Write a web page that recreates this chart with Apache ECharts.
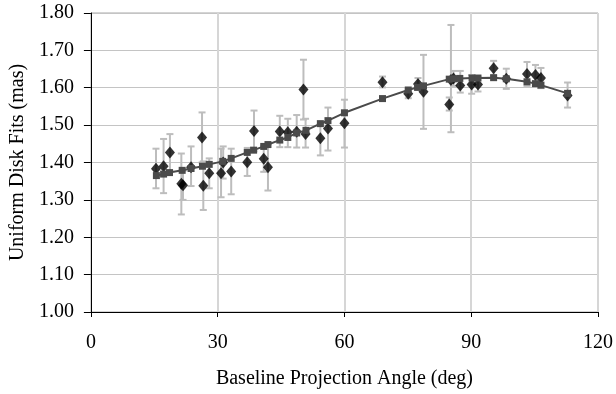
<!DOCTYPE html>
<html>
<head>
<meta charset="utf-8">
<script src="https://cdn.jsdelivr.net/npm/echarts@6/dist/echarts.min.js"></script>
<style>
  html, body { margin: 0; padding: 0; background: #fff; }
  #chart { width: 616px; height: 394px; }
</style>
</head>
<body>
<div id="chart"></div>
<script>
// measured points (angle, fit) with error bar limits
const obsAngle = [15.4, 17.2, 18.7, 21.4, 21.8, 23.7, 26.3, 26.6, 28.0, 30.8, 31.3, 33.2, 37.0, 38.6, 40.9, 41.9,
  44.7, 46.6, 48.7, 50.3, 50.8, 54.3, 56.1, 60.0, 69.0, 75.1, 77.4, 78.7, 84.8, 85.2, 85.8, 87.4, 90.1, 91.6,
  95.3, 98.3, 103.2, 105.2, 106.5, 112.8]
const obsFit = [1.383, 1.390, 1.427, 1.343, 1.339, 1.387, 1.467, 1.338, 1.371, 1.371, 1.400, 1.376, 1.401, 1.484, 1.410, 1.387,
  1.483, 1.481, 1.482, 1.595, 1.476, 1.465, 1.491, 1.505, 1.615, 1.584, 1.610, 1.589, 1.555, 1.621, 1.625, 1.606, 1.609, 1.609,
  1.652, 1.624, 1.637, 1.634, 1.626, 1.579]
const errLow = [1.331, 1.318, 1.378, 1.261, 1.300, 1.337, 1.400, 1.273, 1.331, 1.307, 1.357, 1.315, 1.364, 1.430, 1.375, 1.325,
  1.441, 1.441, 1.440, 1.515, 1.440, 1.419, 1.432, 1.440, 1.601, 1.572, 1.595, 1.490, 1.539, 1.481, 1.605, 1.587, 1.584, 1.590,
  1.632, 1.597, 1.605, 1.607, 1.599, 1.547]
const errHigh = [1.437, 1.463, 1.476, 1.424, 1.378, 1.443, 1.534, 1.403, 1.411, 1.437, 1.443, 1.437, 1.439, 1.539, 1.445, 1.449,
  1.525, 1.517, 1.527, 1.675, 1.517, 1.503, 1.547, 1.568, 1.630, 1.597, 1.626, 1.688, 1.574, 1.768, 1.645, 1.645, 1.634, 1.628,
  1.672, 1.651, 1.669, 1.661, 1.653, 1.614]

// model curve
const modelAngle = [15.5, 17.2, 18.6, 21.6, 23.7, 26.4, 28.0, 31.2, 33.2, 37.0, 38.5, 40.9, 41.9, 44.7, 46.6, 48.7,
  50.9, 54.3, 56.1, 60.0, 69.0, 75.1, 77.3, 78.7, 84.8, 85.9, 87.3, 90.2, 91.6, 95.3, 98.3, 103.2, 105.2, 106.5, 112.8]
const modelFit = [1.365, 1.369, 1.373, 1.379, 1.384, 1.390, 1.395, 1.403, 1.411, 1.427, 1.433, 1.443, 1.448, 1.460, 1.467, 1.479,
  1.486, 1.504, 1.512, 1.533, 1.571, 1.594, 1.601, 1.605, 1.623, 1.624, 1.625, 1.626, 1.626, 1.627, 1.624, 1.616, 1.611, 1.607, 1.585]

const xTicks = [0, 30, 60, 90, 120]
const yTicks = ['1.00', '1.10', '1.20', '1.30', '1.40', '1.50', '1.60', '1.70', '1.80']

const font = "'Liberation Serif', 'Times New Roman', serif"

const chart = echarts.init(document.getElementById('chart'), null, { renderer: 'canvas' })

const option = {
  animation: false,
  backgroundColor: '#fff',
  grid: { left: 89, right: 15, top: 13, bottom: 81, show: true, borderColor: '#a8a8a8', borderWidth: 1 },
  xAxis: {
    type: 'value',
    min: xTicks[0],
    max: xTicks[xTicks.length - 1],
    interval: 30,
    name: 'Baseline Projection Angle (deg)',
    nameLocation: 'middle',
    nameGap: 57,
    nameTextStyle: { fontFamily: font, fontSize: 20, color: '#000' },
    axisLine: { onZero: false, lineStyle: { color: '#000', width: 1 } },
    axisTick: { show: true, length: 5, lineStyle: { color: '#000' } },
    axisLabel: { fontFamily: font, fontSize: 20, color: '#000', margin: 21 },
    splitLine: { show: true, lineStyle: { color: '#d6d6d6', width: 2 } }
  },
  yAxis: {
    type: 'value',
    min: 1.0,
    max: 1.8,
    interval: 0.1,
    name: 'Uniform Disk Fits (mas)',
    nameLocation: 'middle',
    nameGap: 62,
    nameTextStyle: { fontFamily: font, fontSize: 20, color: '#000' },
    axisLine: { show: true, onZero: false, lineStyle: { color: '#000', width: 1 } },
    axisTick: { show: true, length: 7, lineStyle: { color: '#000' } },
    axisLabel: {
      fontFamily: font, fontSize: 20, color: '#000', margin: 17,
      formatter: v => yTicks.find(t => Math.abs(parseFloat(t) - v) < 1e-6) || v.toFixed(2)
    },
    splitLine: { show: true, lineStyle: { color: '#c4c4c4', width: 1 } }
  },
  series: [
    {
      // error bars
      type: 'custom',
      data: obsAngle.map((a, i) => [a, errLow[i], errHigh[i]]),
      renderItem: (params, api) => {
        const lo = api.coord([api.value(0), api.value(1)])
        const hi = api.coord([api.value(0), api.value(2)])
        const w = 3.5
        const style = { stroke: '#bdbdbd', lineWidth: 2 }
        return {
          type: 'group',
          children: [
            { type: 'line', shape: { x1: lo[0], y1: lo[1], x2: hi[0], y2: hi[1] }, style },
            { type: 'line', shape: { x1: lo[0] - w, y1: lo[1], x2: lo[0] + w, y2: lo[1] }, style },
            { type: 'line', shape: { x1: hi[0] - w, y1: hi[1], x2: hi[0] + w, y2: hi[1] }, style }
          ]
        }
      },
      z: 1
    },
    {
      type: 'scatter',
      data: obsAngle.map((a, i) => [a, obsFit[i]]),
      symbol: 'diamond',
      symbolSize: [10, 12],
      itemStyle: { color: '#000' },
      z: 2
    },
    {
      type: 'line',
      data: modelAngle.map((a, i) => [a, modelFit[i]]),
      symbol: 'rect',
      symbolSize: 7,
      showAllSymbol: true,
      lineStyle: { color: '#4a4a4a', width: 2 },
      itemStyle: { color: '#4a4a4a' },
      z: 3
    }
  ]
}

chart.setOption(option)
</script>
</body>
</html>
